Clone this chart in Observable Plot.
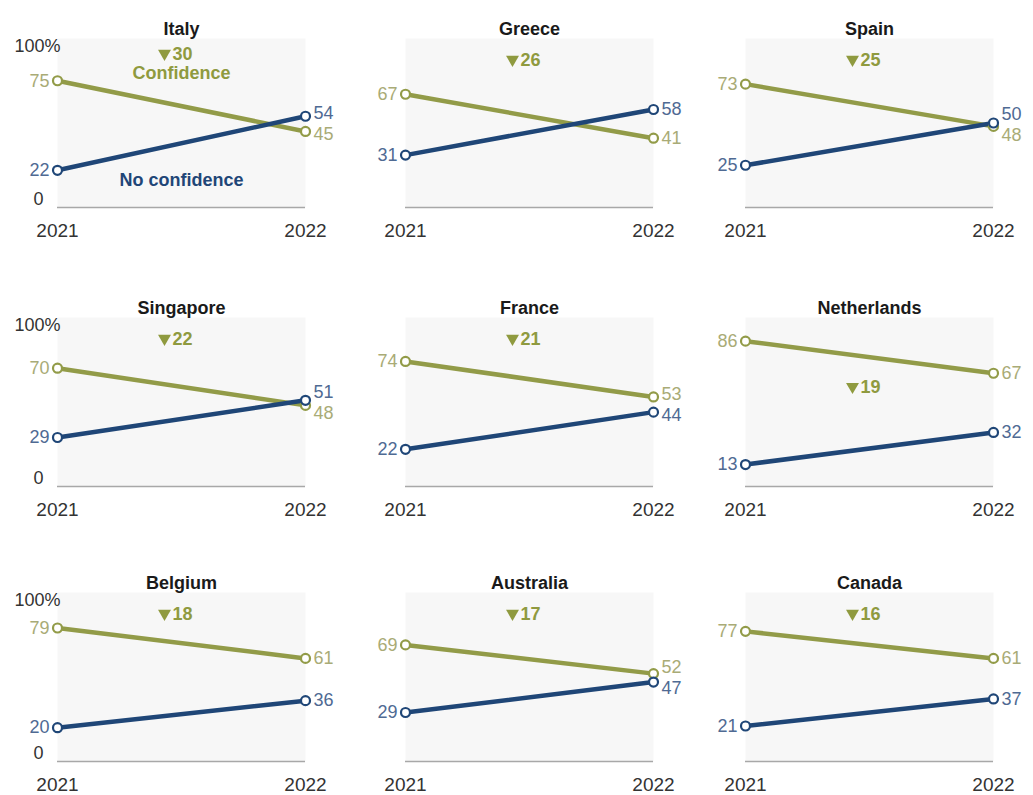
<!DOCTYPE html>
<html>
<head>
<meta charset="utf-8">
<script src="https://cdn.jsdelivr.net/npm/d3@7"></script>
<script src="https://cdn.jsdelivr.net/npm/@observablehq/plot@0.6"></script>
<style>
  html, body { margin: 0; padding: 0; background: #fff; overflow: hidden; }
  #chart { position: relative; width: 1033px; height: 795px; overflow: hidden; }
  #chart svg { position: absolute; }
</style>
</head>
<body>
<div id="chart"></div>
<script>
// ---- Data ----
const countries = ["Italy", "Greece", "Spain", "Singapore", "France", "Netherlands", "Belgium", "Australia", "Canada"];
const years = [2021, 2022];
const confidence2021 = [75, 67, 73, 70, 74, 86, 79, 69, 77];
const confidence2022 = [45, 41, 48, 48, 53, 67, 61, 52, 61];
const noConfidence2021 = [22, 31, 25, 29, 22, 13, 20, 29, 21];
const noConfidence2022 = [54, 58, 50, 51, 44, 32, 36, 47, 37];
const seriesNames = ["Confidence", "No confidence"];
const yTicks = [0, 100];

// ---- Styles ----
const OLIVE = "#929b48";
const OLIVE_TEXT = "#a9ab76";
const OLIVE_BOLD = "#8f9a3f";
const BLUE = "#1f4677";
const BLUE_TEXT = "#4f6a93";
const FONT = "'Liberation Sans', Arial, sans-serif";

const W = 340, H = 245;
const mL = 55, mR = 37, mT = 38, mB = 38;
const plotH = H - mT - mB;           // 169
const pxPerUnit = plotH / 100;
const colLeft = [2, 350, 690];
const rowTop = [0, 279, 554];
const minSep = 21;

const chart = document.getElementById("chart");

function panel(i) {
  const col = i % 3, row = Math.floor(i / 3);
  const conf = [
    {year: years[0], value: confidence2021[i]},
    {year: years[1], value: confidence2022[i]}
  ];
  const noconf = [
    {year: years[0], value: noConfidence2021[i]},
    {year: years[1], value: noConfidence2022[i]}
  ];
  // label dodge when values are close
  const confLab = [], noLab = [];
  for (let j = 0; j < 2; j++) {
    const a = conf[j].value, b = noconf[j].value;
    const dpx = Math.abs(a - b) * pxPerUnit;
    let shift = 0;
    if (dpx < minSep) shift = (minSep - dpx) / 2 / pxPerUnit;
    const sa = a >= b ? shift : -shift;
    confLab.push({year: years[j], value: a, ly: a + sa});
    noLab.push({year: years[j], value: b, ly: b - sa});
  }
  const delta = confidence2021[i] - confidence2022[i];
  const mid = (years[0] + years[1]) / 2;
  const showLegend = i === 0;
  const deltaY = confidence2021[i] >= 85
    ? (confidence2021[i] + confidence2022[i]) / 2 - 18
    : (showLegend ? 90.5 : 87);

  const marks = [
    Plot.frame({fill: "#f7f7f7", stroke: "none"}),
    Plot.ruleY([0], {stroke: "#a8a8a8", strokeWidth: 1.6}),
    Plot.axisX({ticks: years, tickFormat: d => String(d), tickSize: 0, tickPadding: 16,
      fontSize: 19, color: "#333", label: null}),
    Plot.text([countries[i]], {frameAnchor: "top", dy: -16, fontWeight: "bold", fontSize: 18, fill: "#1a1a1a"}),
  ];
  if (col === 0) {
    marks.push(
      Plot.text([yTicks[1]], {x: () => years[0], y: d => d, text: d => d + "%", textAnchor: "start",
        lineAnchor: "top", dx: -43, dy: 1, fontSize: 18, fill: "#333"}),
      Plot.text([yTicks[0]], {x: () => years[0], y: d => d, text: d => String(d), textAnchor: "end",
        lineAnchor: "bottom", dx: -14, dy: -3, fontSize: 18, fill: "#333"})
    );
  }
  marks.push(
    Plot.line(conf, {x: "year", y: "value", stroke: OLIVE, strokeWidth: 4.5}),
    Plot.line(noconf, {x: "year", y: "value", stroke: BLUE, strokeWidth: 4.5}),
    Plot.dot(conf, {x: "year", y: "value", r: 4.5, fill: "white", stroke: OLIVE, strokeWidth: 2.2}),
    Plot.dot(noconf, {x: "year", y: "value", r: 4.5, fill: "white", stroke: BLUE, strokeWidth: 2.2}),
    Plot.text(confLab.filter(d => d.year === years[0]), {x: "year", y: "ly", text: d => String(d.value),
      textAnchor: "end", dx: -8, fontSize: 18, fill: OLIVE_TEXT}),
    Plot.text(confLab.filter(d => d.year === years[1]), {x: "year", y: "ly", text: d => String(d.value),
      textAnchor: "start", dx: 8, fontSize: 18, fill: OLIVE_TEXT}),
    Plot.text(noLab.filter(d => d.year === years[0]), {x: "year", y: "ly", text: d => String(d.value),
      textAnchor: "end", dx: -8, fontSize: 18, fill: BLUE_TEXT}),
    Plot.text(noLab.filter(d => d.year === years[1]), {x: "year", y: "ly", text: d => String(d.value),
      textAnchor: "start", dx: 8, fontSize: 18, fill: BLUE_TEXT}),
    // delta annotation
    Plot.dot([delta], {x: () => mid, y: () => deltaY, symbol: "triangle", rotate: 180, r: 4.8,
      fill: OLIVE_BOLD, stroke: "none", dx: -17, dy: -1}),
    Plot.text([delta], {x: () => mid, y: () => deltaY, text: d => String(d), textAnchor: "start",
      dx: -9, fontSize: 18, fontWeight: "bold", fill: OLIVE_BOLD})
  );
  if (showLegend) {
    marks.push(
      Plot.text([seriesNames[0]], {x: () => mid, y: () => deltaY - 11, fontSize: 18, fontWeight: "bold", fill: OLIVE_BOLD}),
      Plot.text([seriesNames[1]], {x: () => mid, frameAnchor: "bottom", dy: -22, fontSize: 18, fontWeight: "bold", fill: BLUE})
    );
  }

  const svg = Plot.plot({
    width: W, height: H,
    marginLeft: mL, marginRight: mR, marginTop: mT, marginBottom: mB,
    x: {domain: years, type: "linear"},
    y: {domain: [0, 100], axis: null},
    style: {fontFamily: FONT, background: "transparent", overflow: "visible"},
    marks
  });
  svg.style.left = colLeft[col] + "px";
  svg.style.top = rowTop[row] + "px";
  chart.appendChild(svg);
}

countries.forEach((_, i) => panel(i));
</script>
</body>
</html>
